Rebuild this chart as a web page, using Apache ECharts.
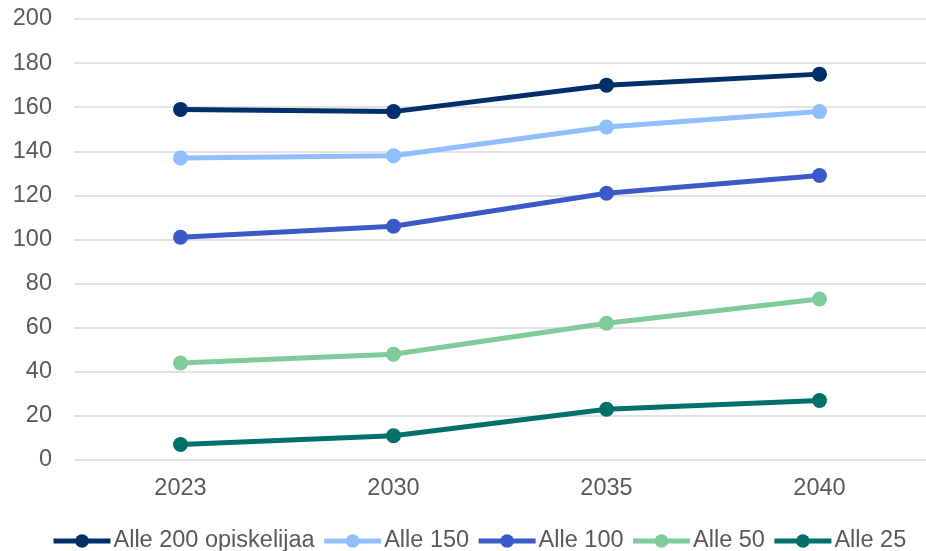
<!DOCTYPE html>
<html><head><meta charset="utf-8">
<script src="https://cdn.jsdelivr.net/npm/echarts@6/dist/echarts.min.js"></script>
<style>html,body{margin:0;padding:0;background:#fff}#c{width:926px;height:551px}</style>
</head><body><div id="c"></div>
<script>
const categories = ['2023', '2030', '2035', '2040'];
const seriesNames = ['Alle 200 opiskelijaa', 'Alle 150', 'Alle 100', 'Alle 50', 'Alle 25'];
const alle200 = [159, 158, 170, 175];
const alle150 = [137, 138, 151, 158];
const alle100 = [101, 106, 121, 129];
const alle50 = [44, 48, 62, 73];
const alle25 = [7, 11, 23, 27];
const yTicks = [0, 200, 20];
const colors = ['#002f6c', '#8fbfff', '#3a5bc7', '#7fcb9a', '#00706b'];
const values = [alle200, alle150, alle100, alle50, alle25];

const chart = echarts.init(document.getElementById('c'));
chart.setOption({
  animation: false,
  textStyle: {fontFamily: 'Liberation Sans, Arial, sans-serif'},
  grid: {left: 74, right: 0, top: 19, bottom: 91},
  legend: {
    bottom: -2, left: 51, padding: 0, itemWidth: 57, itemHeight: 17, itemGap: 7,
    lineStyle: {width: 5},
    textStyle: {fontSize: 23.5, color: '#595959', padding: [0, 0, 0, -2]},
    data: seriesNames
  },
  xAxis: {
    type: 'category', data: categories, boundaryGap: true,
    axisLine: {show: false}, axisTick: {show: false},
    axisLabel: {fontSize: 23.5, color: '#595959', margin: 17}
  },
  yAxis: {
    type: 'value', min: yTicks[0], max: yTicks[1], interval: yTicks[2],
    axisLine: {show: false}, axisTick: {show: false},
    axisLabel: {fontSize: 23.5, color: '#595959', margin: 22},
    splitLine: {lineStyle: {color: '#d9d9d9', width: 1.5}}
  },
  series: seriesNames.map((n, i) => ({
    name: n, type: 'line', data: values[i],
    symbol: 'circle', symbolSize: 15,
    lineStyle: {width: 5, color: colors[i]},
    itemStyle: {color: colors[i]}
  }))
});
</script></body></html>
